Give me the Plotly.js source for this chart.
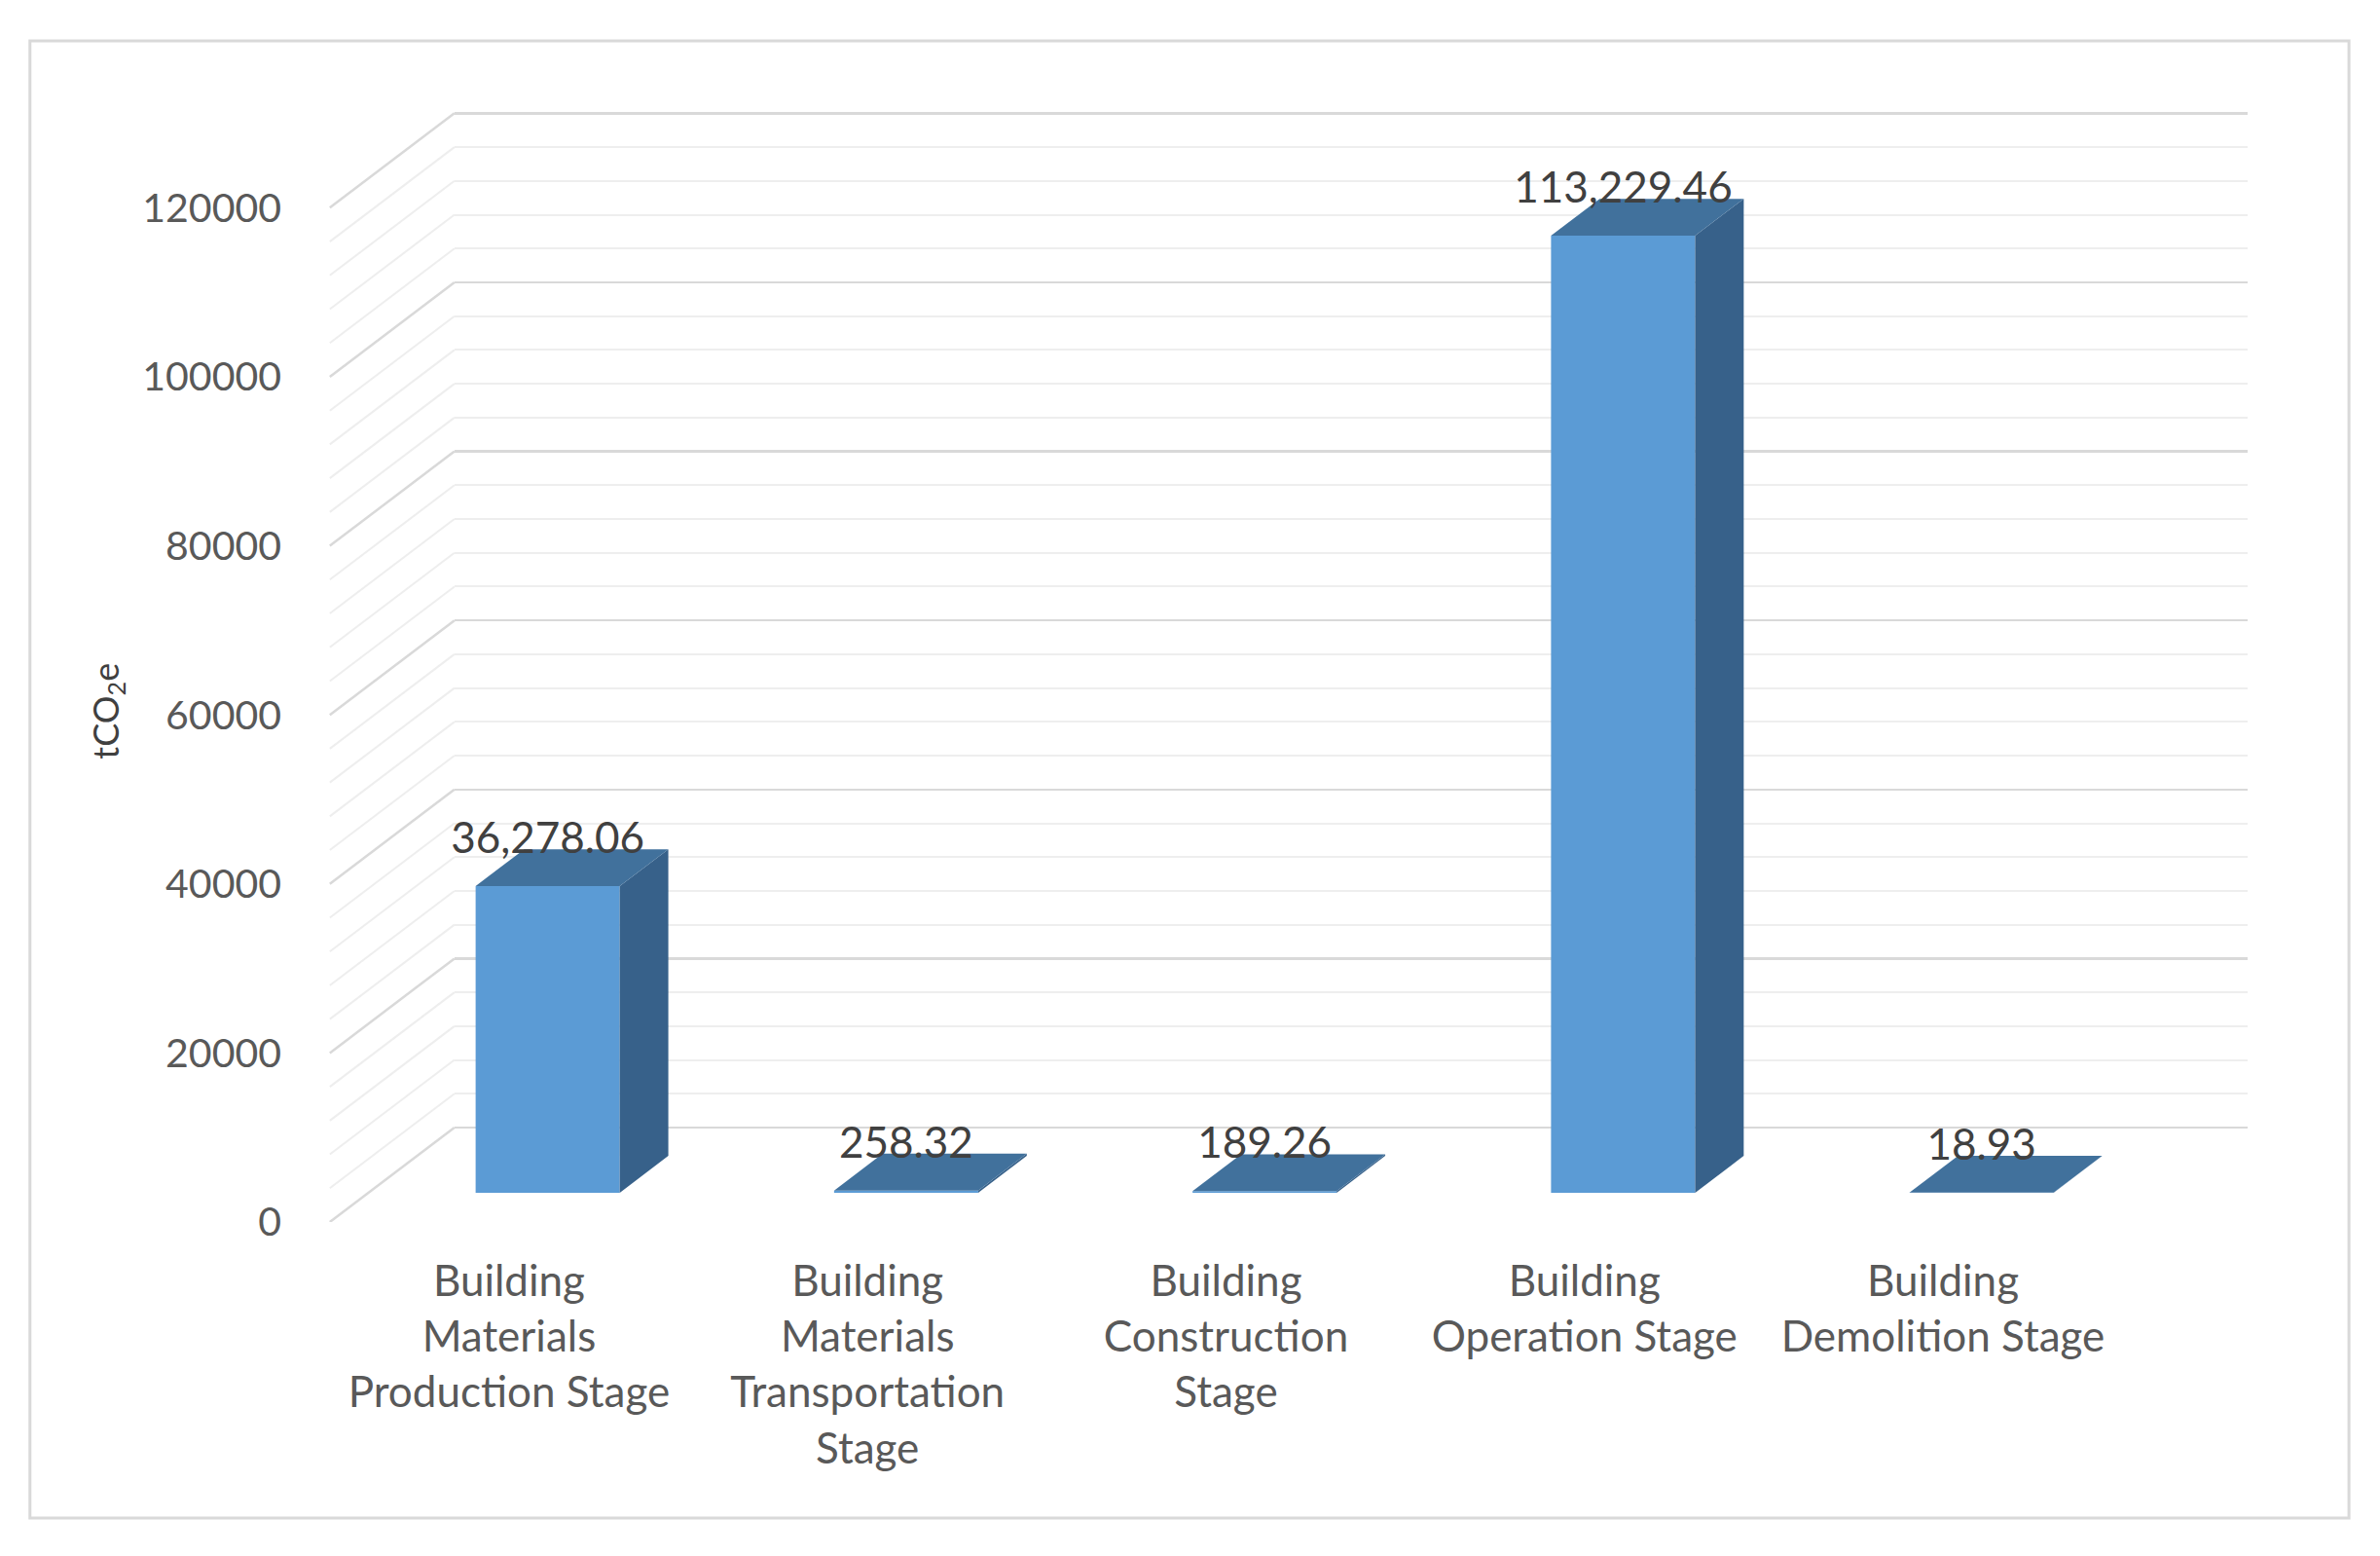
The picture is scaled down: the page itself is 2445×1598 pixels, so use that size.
<!DOCTYPE html>
<html>
<head>
<meta charset="utf-8">
<script src="https://cdn.plot.ly/plotly-3.0.1.min.js"></script>
<style>
	html, body { margin: 0; padding: 0; background: #ffffff; }
	#graph { width: 2445px; height: 1598px; }
</style>
</head>
<body>
<div id="graph"></div>
<script>
//DATA
const categories = [
	'Building<br>Materials<br>Production Stage',
	'Building<br>Materials<br>Transportation<br>Stage',
	'Building<br>Construction<br>Stage',
	'Building<br>Operation Stage',
	'Building<br>Demolition Stage'
];
const values = [36278.06, 258.32, 189.26, 113229.46, 18.93];
const yTicks = [0, 20000, 40000, 60000, 80000, 100000, 120000];
const minorStep = 4000;

//GEOMETRY (fake 3d)
const W = 2445, H = 1598;
const DEPTH_X = 0.3476;   // category units for full floor depth
const DEPTH_Y = 11175;    // value units for full floor depth
const BAR_FRONT = 0.31, BAR_BACK = 0.70;
const BAR_W = 0.402;
const LABEL_LIFT = 5200;
const HEADROOM = 2000;    // room above the top gridline so it is not clipped

const FRONT = '#5b9bd5', TOP = '#41719c', SIDE = '#37618a';
const GRID = '#d9d9d9', MINOR = '#eeeeee';

const yTop = yTicks[yTicks.length - 1];
const yMax = yTop + DEPTH_Y + HEADROOM;
const mL = 302.2, mR = 136.1, mB = 343;
const mT = 116.4 - HEADROOM * 8.68 / 1000;
const plotW = W - mL - mR, plotH = H - mT - mB;

function px(x){ return (x - mL) / plotW; }
function py(y){ return (H - mB - y) / plotH; }

//HELPER FUNCTIONS
function bar3d(i, v){
	const base = BAR_FRONT * DEPTH_Y;
	const ddx = (BAR_BACK - BAR_FRONT) * DEPTH_X;
	const ddy = (BAR_BACK - BAR_FRONT) * DEPTH_Y;
	const a = i - BAR_W / 2 + BAR_FRONT * DEPTH_X;
	const b = a + BAR_W;
	const t = base + v;
	const top = {
		x: [a, b, b + ddx, a + ddx, a], y: [t, t, t + ddy, t + ddy, t],
		mode: 'lines', fill: 'toself', fillcolor: TOP, line: {width: 0, color: TOP},
		xaxis: 'x2', yaxis: 'y2', hoverinfo: 'skip', showlegend: false
	};
	const side = {
		x: [b, b, b + ddx, b + ddx, b], y: [base, t, t + ddy, base + ddy, base],
		mode: 'lines', fill: 'toself', fillcolor: SIDE, line: {width: 0, color: SIDE},
		xaxis: 'x2', yaxis: 'y2', hoverinfo: 'skip', showlegend: false
	};
	return [side, top];
}

function wallLines(major){
	const xs = [], ys = [];
	for(let v = 0; v <= yTop; v += minorStep){
		if((yTicks.indexOf(v) >= 0) != major) continue;
		xs.push(-0.5, -0.5 + DEPTH_X, null);
		ys.push(v, v + DEPTH_Y, null);
	}
	return {
		x: xs, y: ys, mode: 'lines',
		line: {color: major ? GRID : MINOR, width: major ? 2.5 : 2},
		xaxis: 'x2', yaxis: 'y2', hoverinfo: 'skip', showlegend: false
	};
}

//TRACES
const idx = values.map((v, i) => i);
let data = [];

// empty trace so the back wall subplot exists
data.push({x: [], y: [], xaxis: 'x', yaxis: 'y', showlegend: false});

data.push(wallLines(false));
data.push(wallLines(true));

data.push({
	type: 'bar',
	x: idx.map(i => i + BAR_FRONT * DEPTH_X),
	y: values,
	base: BAR_FRONT * DEPTH_Y,
	width: BAR_W,
	marker: {color: FRONT, line: {width: 0}},
	xaxis: 'x2', yaxis: 'y2', hoverinfo: 'skip', showlegend: false
});

idx.forEach(i => { data = data.concat(bar3d(i, values[i])); });

data.push({
	x: idx.map(i => i + BAR_FRONT * DEPTH_X),
	y: values.map(v => BAR_FRONT * DEPTH_Y + v + LABEL_LIFT),
	mode: 'text',
	text: values.map(v => v.toLocaleString('en-US', {minimumFractionDigits: 2, maximumFractionDigits: 2})),
	textposition: 'middle center',
	textfont: {family: 'Lato', size: 44, color: '#404040'},
	cliponaxis: false,
	xaxis: 'x2', yaxis: 'y2', hoverinfo: 'skip', showlegend: false
});

//LAYOUT
const layout = {
	width: W, height: H,
	margin: {l: mL, r: mR, t: mT, b: mB, pad: 0},
	paper_bgcolor: '#ffffff', plot_bgcolor: 'rgba(0,0,0,0)',
	font: {family: 'Lato', color: '#595959'},
	showlegend: false,
	barmode: 'overlay',
	// back wall with the gridlines
	xaxis: {
		domain: [px(467), 1], range: [0, 1], anchor: 'y',
		visible: false, showgrid: false, zeroline: false, fixedrange: true
	},
	yaxis: {
		domain: [DEPTH_Y / yMax, 1], range: [0, yTop + HEADROOM], anchor: 'x',
		tick0: 0, dtick: 20000, showticklabels: false, ticks: '',
		showgrid: true, gridcolor: GRID, gridwidth: 2.5,
		zeroline: true, zerolinecolor: GRID, zerolinewidth: 2.5,
		minor: {dtick: minorStep, showgrid: true, gridcolor: MINOR, gridwidth: 2},
		fixedrange: true
	},
	// front plane: bars, labels, ticks
	xaxis2: {
		domain: [0, 1], range: [-0.6, 4.85], anchor: 'y2',
		tickvals: idx, ticktext: categories, ticks: '',
		tickfont: {family: 'Lato', size: 44, color: '#595959'},
		ticklabelstandoff: 31,
		showgrid: false, zeroline: false, showline: false, fixedrange: true
	},
	yaxis2: {
		domain: [0, 1], range: [0, yMax], anchor: 'x2',
		tickvals: yTicks, ticktext: yTicks.map(String), ticks: '',
		tickfont: {family: 'Lato', size: 41, color: '#595959'},
		ticklabelstandoff: 12,
		showgrid: false, zeroline: false, showline: false, fixedrange: true
	},
	annotations: [{
		text: 'tCO<sub>2</sub>e', textangle: -90,
		xref: 'paper', yref: 'paper', x: px(111), y: py(730),
		xanchor: 'center', yanchor: 'middle', showarrow: false,
		font: {family: 'Lato', size: 36, color: '#404040'}
	}],
	shapes: [{
		type: 'rect', xref: 'paper', yref: 'paper',
		x0: px(31), x1: px(2413), y0: py(1559), y1: py(42),
		line: {color: GRID, width: 3}, layer: 'below'
	}]
};

Plotly.newPlot('graph', data, layout, {displayModeBar: false, staticPlot: true});
</script>
</body>
</html>
